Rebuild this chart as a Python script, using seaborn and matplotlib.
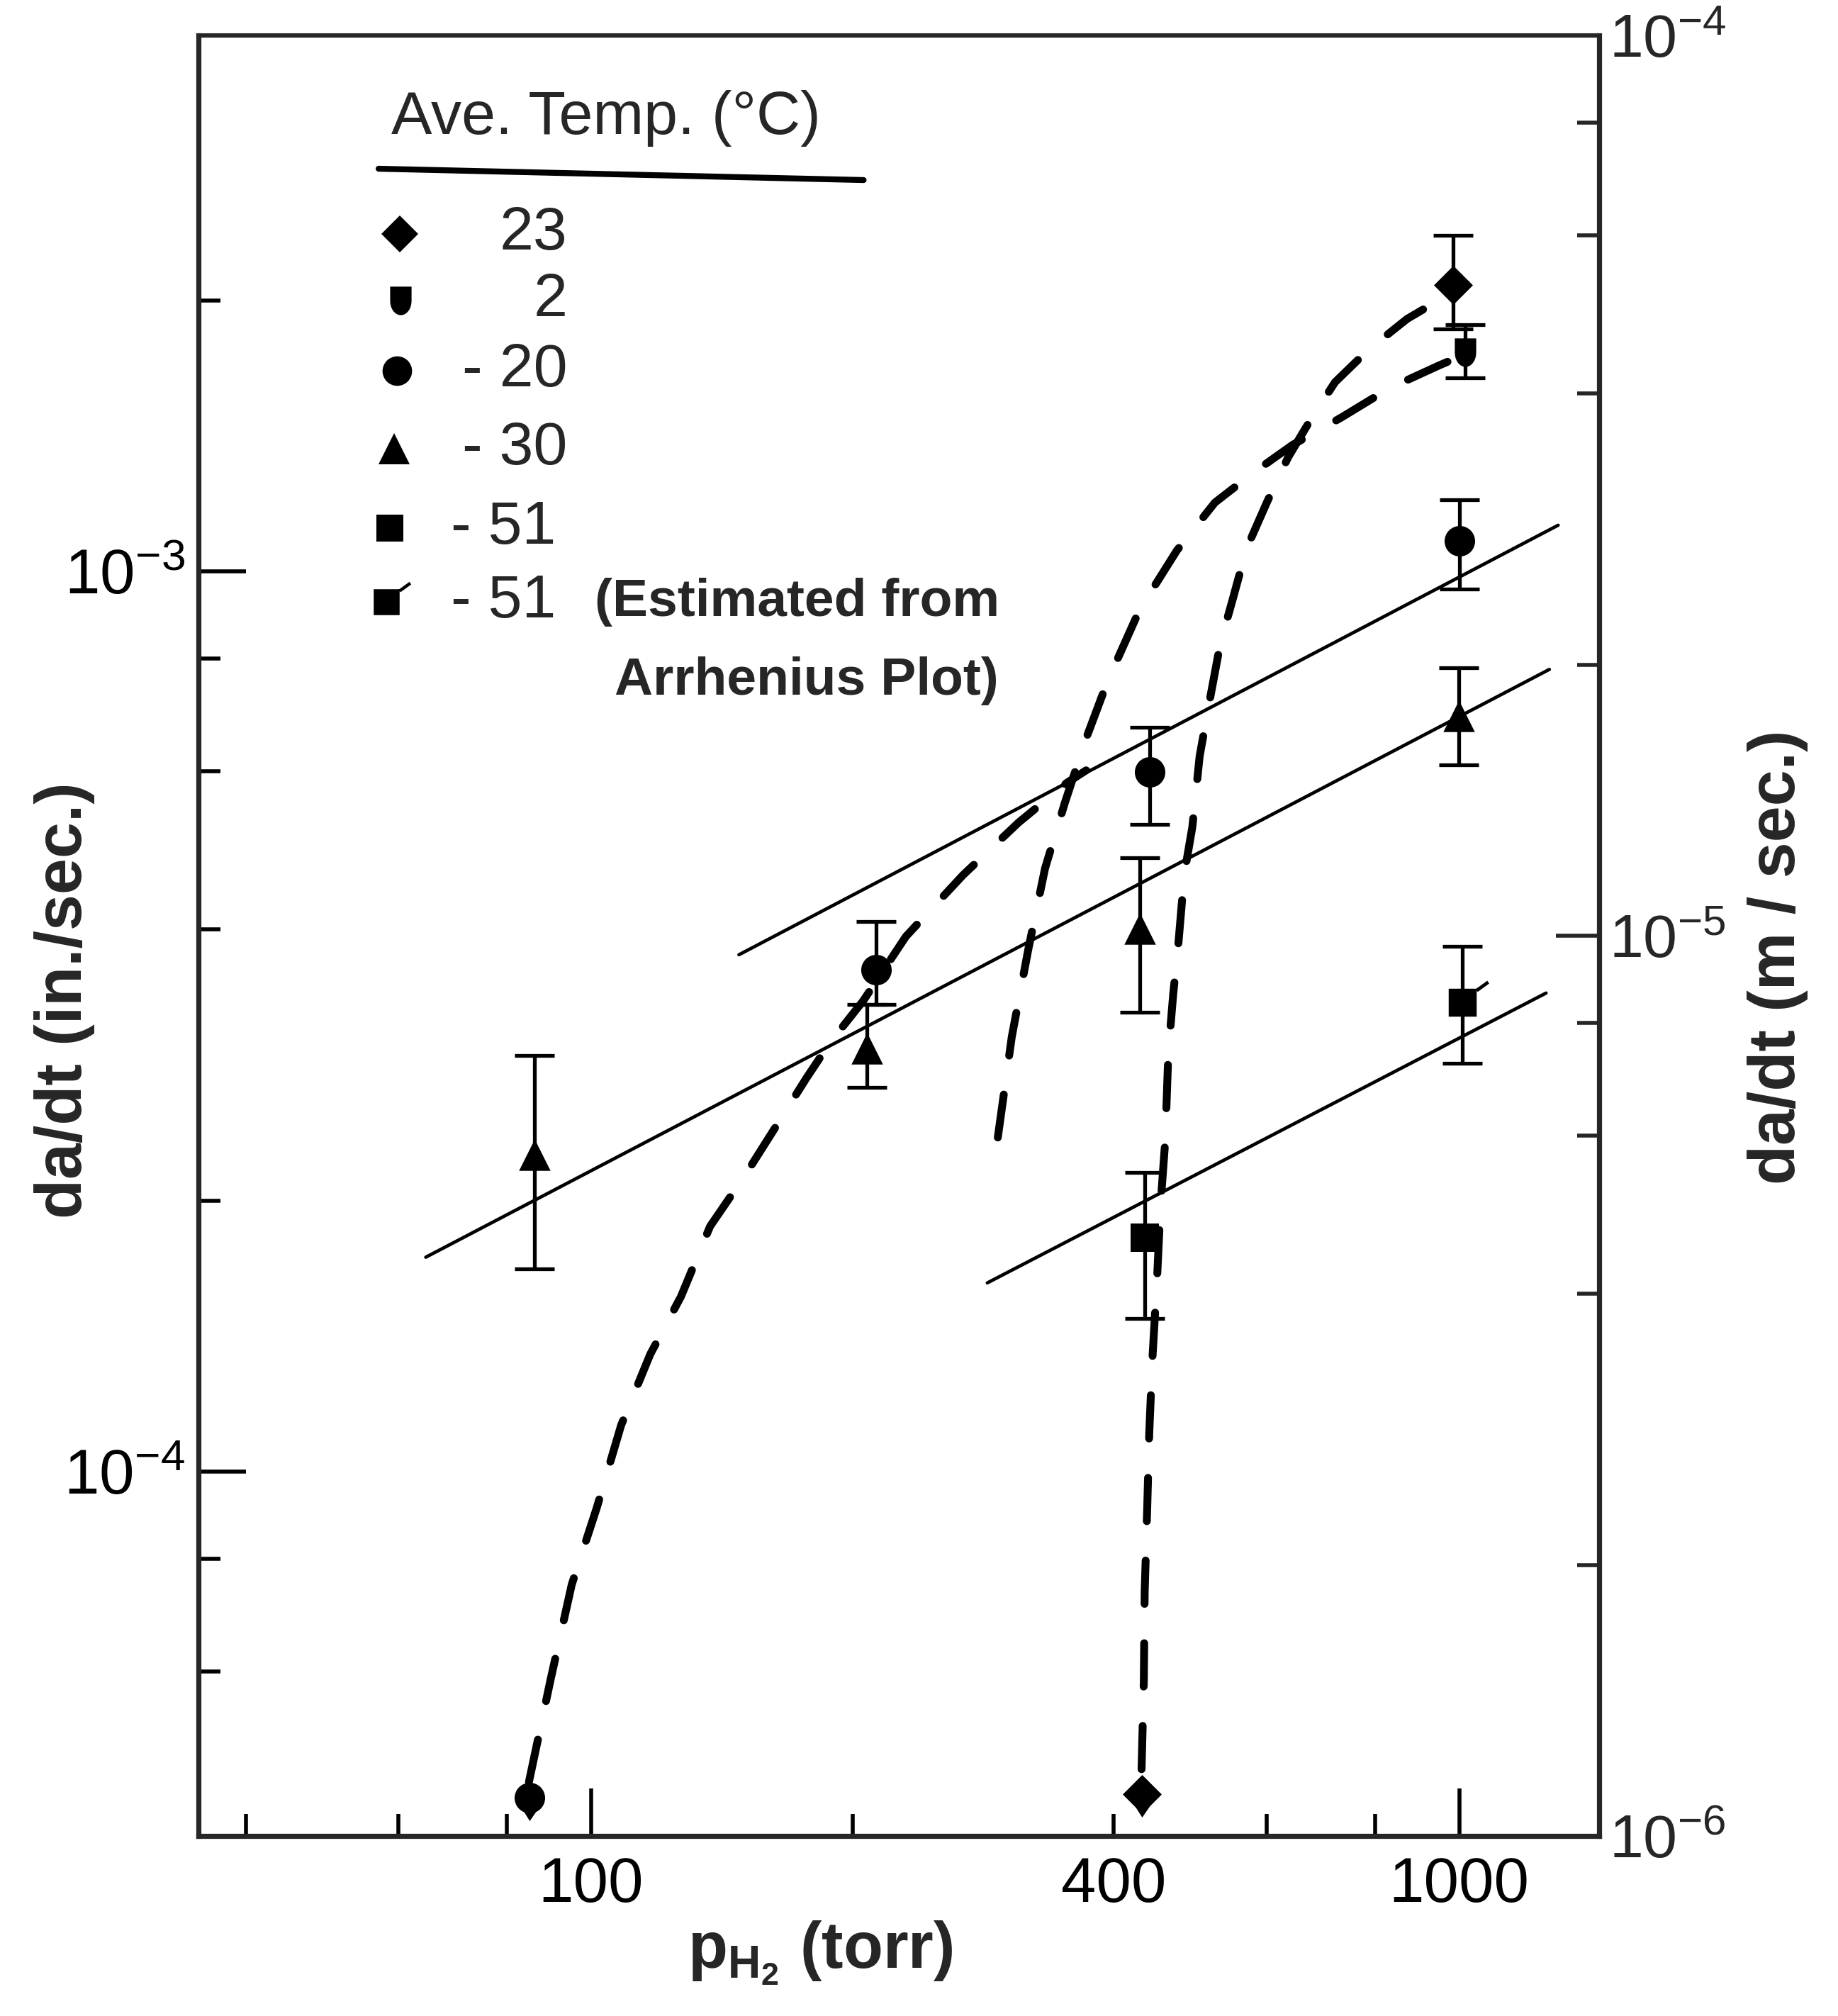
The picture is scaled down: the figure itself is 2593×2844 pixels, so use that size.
import numpy as np
import matplotlib
matplotlib.use('Agg')
import matplotlib.pyplot as plt
import seaborn as sns
from matplotlib.path import Path
from matplotlib.ticker import FixedLocator, FuncFormatter, NullFormatter

# crack growth rate da/dt (in./sec.) vs hydrogen pressure (torr)

# measured points with error bars
p_23 = [983]
rate_23 = [2.08e-3]
rate_23_lo = [1.86e-3]
rate_23_hi = [2.36e-3]

p_2 = [1016]
rate_2 = [1.75e-3]
rate_2_lo = [1.64e-3]
rate_2_hi = [1.88e-3]

p_m20 = [213, 440, 1000]
rate_m20 = [3.61e-4, 5.99e-4, 1.08e-3]
rate_m20_lo = [3.30e-4, 5.23e-4, 9.55e-4]
rate_m20_hi = [4.08e-4, 6.71e-4, 1.20e-3]

p_m30 = [86, 208, 429, 998]
rate_m30 = [2.25e-4, 2.95e-4, 4.01e-4, 6.91e-4]
rate_m30_lo = [1.68e-4, 2.67e-4, 3.24e-4, 6.09e-4]
rate_m30_hi = [2.90e-4, 3.30e-4, 4.81e-4, 7.82e-4]

p_m51 = [434]
rate_m51 = [1.82e-4]
rate_m51_lo = [1.48e-4]
rate_m51_hi = [2.15e-4]

p_m51_est = [1009]
rate_m51_est = [3.32e-4]
rate_m51_est_lo = [2.84e-4]
rate_m51_est_hi = [3.83e-4]

# points sitting on the bottom edge (arrow down)
p_23_limit = [431]
rate_23_limit = [4.38e-5]
p_m20_limit = [85]
rate_m20_limit = [4.34e-5]

# straight fits
fit_m20_p = [148, 1300]
fit_m20_rate = [3.75e-4, 1.125e-3]
fit_m30_p = [64.5, 1270]
fit_m30_rate = [1.73e-4, 7.78e-4]
fit_m51_p = [286, 1259]
fit_m51_rate = [1.62e-4, 3.40e-4]

# dashed curves
curve_m20_p = [84.8, 89.8, 95.0, 101.5, 108.3, 117.0, 126.9, 137.1, 150.6, 162.3,
               177.0, 188.4, 205.8, 230.5, 268.3, 310.8, 353.1, 371.7]
curve_m20_rate = [4.52e-5, 5.87e-5, 7.49e-5, 9.11e-5, 1.126e-4, 1.35e-4, 1.564e-4,
                  1.872e-4, 2.137e-4, 2.395e-4, 2.735e-4, 2.994e-4, 3.333e-4,
                  3.93e-4, 4.60e-4, 5.26e-4, 5.82e-4, 6.01e-4]

curve_2_p = [294.1, 305.2, 319.0, 333.4, 351.1, 370.6, 393.3, 428.3, 473.0, 523.0,
             579.4, 643.0, 731.5, 831.8, 946.7, 1004]
curve_2_rate = [2.35e-4, 3.04e-4, 3.81e-4, 4.68e-4, 5.52e-4, 6.47e-4, 7.54e-4,
                9.06e-4, 1.055e-3, 1.192e-3, 1.287e-3, 1.382e-3, 1.482e-3,
                1.598e-3, 1.692e-3, 1.734e-3]

curve_23_p = [430.6, 433.2, 434.2, 437.1, 439.5, 443.1, 448.6, 452.9, 458.5, 462.3,
              468.3, 474.8, 482.3, 492.7, 502.3, 516.6, 530.6, 549.4, 568.7, 600.9,
              635.3, 676.1, 719.4, 786.3, 870.9, 952.8]
curve_23_rate = [4.67e-5, 5.86e-5, 7.36e-5, 9.1e-5, 1.105e-4, 1.331e-4, 1.632e-4,
                 1.982e-4, 2.33e-4, 2.92e-4, 3.39e-4, 3.86e-4, 4.61e-4, 5.2e-4,
                 6.23e-4, 7.24e-4, 8.31e-4, 9.37e-4, 1.059e-3, 1.195e-3, 1.339e-3,
                 1.48e-3, 1.622e-3, 1.763e-3, 1.907e-3, 2.007e-3]

# ticks
x_major_ticks = [100, 1000]
x_minor_ticks = [40, 60, 80, 200, 400, 600, 800]
x_labelled_minor = [400]
y_major_ticks = [1e-4, 1e-3]
y_minor_ticks = [6e-5, 8e-5, 2e-4, 4e-4, 6e-4, 8e-4, 2e-3]
m_major_ticks = [1e-6, 1e-5, 1e-4]
m_minor_ticks = [2e-6, 4e-6, 6e-6, 8e-6, 2e-5, 4e-5, 6e-5, 8e-5]

legend_labels = ['23', '2', '- 20', '- 30', '- 51', '- 51']

IN_TO_M = 0.0254

# custom markers: shield for 2 C, flagged square for the estimated point
t = np.linspace(0, np.pi, 16)
shield_verts = np.vstack([[[-0.75, 1.0], [0.75, 1.0]],
                          np.column_stack([0.75 * np.cos(t), -np.sin(t)]),
                          [[-0.75, 1.0]]])
shield = Path(shield_verts, closed=True)
sq = Path([(-1, -1), (1, -1), (1, 1), (-1, 1), (-1, -1)], closed=True)
flag = Path([(1.07, 0.77), (1.90, 1.37), (1.76, 1.57), (0.93, 0.97), (1.07, 0.77)], closed=True)
flag_square = Path.make_compound_path(sq, flag)

sns.set_style('ticks')
plt.rcParams['font.family'] = ['Liberation Sans', 'DejaVu Sans']
plt.rcParams['mathtext.default'] = 'regular'

fig = plt.figure(figsize=(2593 / 200, 2844 / 200), dpi=200)
ax = fig.add_axes([0.108, 0.0893, 0.762, 0.8931])
ax.set_xscale('log')
ax.set_yscale('log')
ax.set_xlim(35.3, 1449)
ax.set_ylim(1e-6 / IN_TO_M, 1e-4 / IN_TO_M)

# dashed curves
dash = (0, (5.5, 5))
for xs, ys in [(curve_m20_p, curve_m20_rate), (curve_2_p, curve_2_rate),
               (curve_23_p, curve_23_rate)]:
    sns.lineplot(x=xs, y=ys, ax=ax, color='black', lw=4.0, linestyle=dash,
                 dash_capstyle='round', sort=False, estimator=None, zorder=2)

# solid fits
for xs, ys in [(fit_m20_p, fit_m20_rate), (fit_m30_p, fit_m30_rate),
               (fit_m51_p, fit_m51_rate)]:
    sns.lineplot(x=xs, y=ys, ax=ax, color='black', lw=1.7, sort=False,
                 estimator=None, zorder=2)

series = [
    (p_23, rate_23, rate_23_lo, rate_23_hi, 'D', 14),
    (p_2, rate_2, rate_2_lo, rate_2_hi, shield, 14.5),
    (p_m20, rate_m20, rate_m20_lo, rate_m20_hi, 'o', 15.5),
    (p_m30, rate_m30, rate_m30_lo, rate_m30_hi, '^', 16),
    (p_m51, rate_m51, rate_m51_lo, rate_m51_hi, 's', 14.5),
    (p_m51_est, rate_m51_est, rate_m51_est_lo, rate_m51_est_hi, flag_square, 27),
]
for xs, ys, lo, hi, mk, ms in series:
    ys = np.array(ys)
    yerr = [ys - np.array(lo), np.array(hi) - ys]
    ax.errorbar(xs, ys, yerr=yerr, fmt='none', ecolor='black', elinewidth=1.9,
                capsize=10, capthick=1.9, zorder=3)
    sns.scatterplot(x=xs, y=ys, ax=ax, marker=mk, s=ms ** 2, color='black',
                    edgecolor='black', linewidth=0, zorder=4)

# bottom-edge points with small down arrows
for xs, ys, mk, ms in [(p_23_limit, rate_23_limit, 'D', 14),
                       (p_m20_limit, rate_m20_limit, 'o', 15.5)]:
    sns.scatterplot(x=xs, y=ys, ax=ax, marker=mk, s=ms ** 2, color='black',
                    edgecolor='black', linewidth=0, zorder=4)
    ax.plot(xs, np.array(ys) / 1.055, ls='none', marker=7, ms=9, color='black',
            zorder=4, clip_on=False)

# axes styling
for sp in ax.spines.values():
    sp.set_linewidth(2.6)
ax.spines['top'].set_linewidth(2.2)

ax.xaxis.set_major_locator(FixedLocator(x_major_ticks))
ax.xaxis.set_minor_locator(FixedLocator(x_minor_ticks))
ax.xaxis.set_major_formatter(FuncFormatter(lambda v, pos: '%d' % round(v)))
ax.xaxis.set_minor_formatter(FuncFormatter(
    lambda v, pos: '%d' % round(v) if any(abs(v - t) < 1e-6 for t in x_labelled_minor) else ''))
ax.yaxis.set_major_locator(FixedLocator(y_major_ticks))
ax.yaxis.set_minor_locator(FixedLocator(y_minor_ticks))
ax.yaxis.set_major_formatter(FuncFormatter(lambda v, pos: r'$10^{%d}$' % round(np.log10(v))))
ax.yaxis.set_minor_formatter(NullFormatter())

ax.tick_params(which='both', direction='in', top=False, right=False, width=2,
               labelsize=32, colors='black')
ax.tick_params(which='major', length=24)
ax.tick_params(which='minor', length=11)
ax.tick_params(axis='x', which='both', pad=10)
ax.tick_params(axis='y', which='both', pad=7)

ax2 = ax.twinx()
ax2.set_yscale('log')
ax2.set_ylim(ax.get_ylim()[0] * IN_TO_M, ax.get_ylim()[1] * IN_TO_M)
ax2.yaxis.set_major_locator(FixedLocator(m_major_ticks))
ax2.yaxis.set_minor_locator(FixedLocator(m_minor_ticks))
ax2.yaxis.set_major_formatter(FuncFormatter(lambda v, pos: r'$10^{%d}$' % round(np.log10(v))))
ax2.yaxis.set_minor_formatter(NullFormatter())
ax2.tick_params(which='both', direction='in', width=2, labelsize=31, pad=5)
ax2.tick_params(which='major', length=22)
ax2.tick_params(which='minor', length=11)
for sp in ax2.spines.values():
    sp.set_visible(False)

ax.set_xlabel(r'$p_{H_2}$ (torr)', fontsize=33, fontweight='bold')
ax.xaxis.set_label_coords(0.444, -0.046)
ax.set_ylabel('da/dt (in./sec.)', fontsize=33, fontweight='bold')
ax.yaxis.set_label_coords(-0.074, 0.464)
ax2.set_ylabel('da/dt (m / sec.)', fontsize=33, fontweight='bold', rotation=90)
ax2.yaxis.set_label_coords(1.106, 0.488)

# legend drawn as a text block in the upper left
tr = ax.transAxes
ax.text(0.1377, 0.9539, 'Ave. Temp. (\u00b0C)', transform=tr, fontsize=31, va='center', ha='left')
ax.plot([0.1286, 0.4749], [0.926, 0.9197], transform=tr, color='black', lw=3, clip_on=False)
row_x = [0.1438, 0.1443, 0.1418, 0.1397, 0.1367, 0.1342]
row_y = [0.8898, 0.8528, 0.8138, 0.7705, 0.7264, 0.6854]
row_markers = [('D', 13.2), (shield, 14.5), ('o', 15), ('^', 16), ('s', 14), (flag_square, 25)]
for xx, yy, (mk, ms) in zip(row_x, row_y, row_markers):
    ax.plot([xx], [yy], transform=tr, marker=mk, ms=ms, color='black', ls='none',
            mew=0, clip_on=False)
for yy, lab in zip(row_y[:4], legend_labels[:4]):
    ax.text(0.2635, yy, lab, transform=tr, fontsize=31, va='center', ha='right')
for yy, lab in zip(row_y[4:], legend_labels[4:]):
    ax.text(0.1803, yy, lab, transform=tr, fontsize=31, va='center', ha='left')
ax.text(0.283, row_y[5], '(Estimated from', transform=tr, fontsize=27,
        fontweight='bold', va='center', ha='left')
ax.text(0.2972, 0.6417, 'Arrhenius Plot)', transform=tr, fontsize=27,
        fontweight='bold', va='center', ha='left')

fig.savefig('out.png', dpi=200)
